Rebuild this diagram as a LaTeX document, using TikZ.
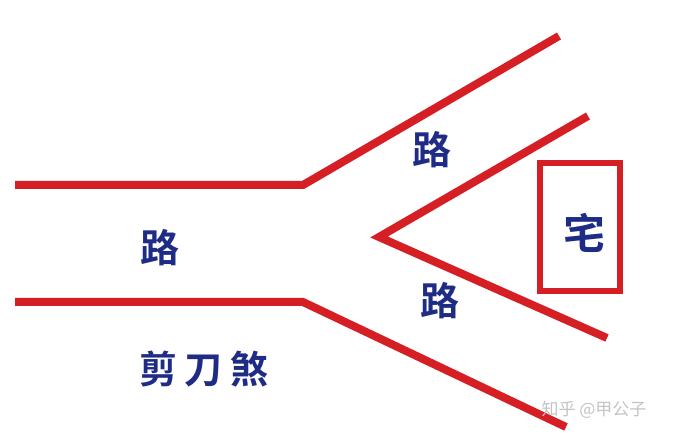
\documentclass[tikz,border=0pt]{standalone}
\usepackage{fontspec}
\newfontfamily\cjk{Noto Sans CJK SC}
\newfontfamily\cjkb{Noto Sans CJK SC Bold}
\definecolor{roadred}{HTML}{D61F24}
\definecolor{inkblue}{HTML}{1F2C86}
\definecolor{wmgrey}{HTML}{C4C4C4}
\begin{document}
\begin{tikzpicture}[x=1pt,y=-1pt,
  road/.style={draw=roadred,line width=8pt,line cap=butt,line join=miter},
  lbl/.style={text=inkblue,font=\cjkb\fontsize{39}{39}\selectfont,inner sep=0pt},
  wm/.style={text=wmgrey,font=\cjk\fontsize{17}{17}\selectfont,inner sep=0pt}]
\useasboundingbox[fill=white] (0,0) rectangle (673,438);
% top road edge
\coordinate (t0) at (15,185);
\coordinate (t1) at (303,185);
\coordinate (t2) at (559,36);
% bottom road edge
\coordinate (b0) at (15,302);
\coordinate (b1) at (303,302);
\coordinate (b2) at (566,427);
% inner V
\coordinate (v0) at (588,116);
\coordinate (v1) at (379,237);
\coordinate (v2) at (607,338);
\draw[road] (t0) -- (t1) -- (t2);
\draw[road] (b0) -- (b1) -- (b2);
\draw[road] (v0) -- (v1) -- (v2);
\node[draw=roadred,line width=6pt,minimum width=80pt,minimum height=128pt,inner sep=0pt] (house) at (579.5,227.5) {};
\node[lbl] (rA) at (432,150) {路};
\node[lbl] (rB) at (160,248) {路};
\node[lbl] (rC) at (440,301) {路};
\node[lbl,font=\cjkb\fontsize{42}{42}\selectfont] (zhai) at (584,233) {宅};
\node[lbl,font=\cjkb\fontsize{38}{38}\selectfont] (jdsha) at (204,369) {剪\hspace{8pt}刀\hspace{8pt}煞};
\node[wm] (mark) at (594,410) {知乎 @甲公子};
\end{tikzpicture}
\end{document}
